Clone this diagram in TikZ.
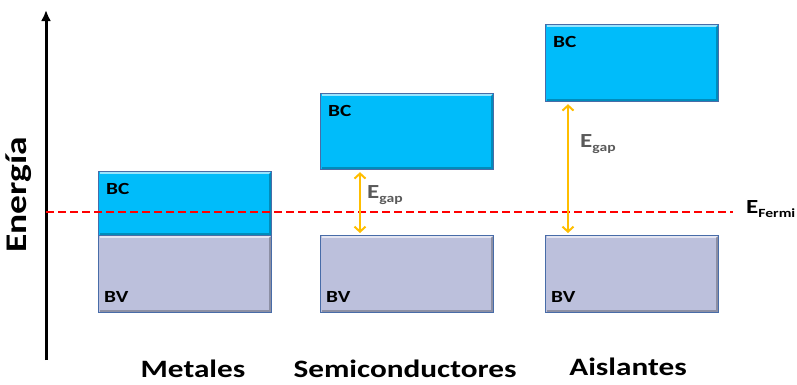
\documentclass[tikz,border=0pt]{standalone}
\usepackage{fontspec}
\setmainfont{Carlito}[FakeStretch=1.25]
\usepackage{xcolor}
\usepackage{tikz}
\usetikzlibrary{arrows.meta}
\definecolor{bandbc}{RGB}{0,188,250}
\definecolor{bandbv}{RGB}{188,192,220}
\definecolor{bandline}{RGB}{72,108,168}
\definecolor{gapcol}{RGB}{255,190,0}
\definecolor{gaptext}{RGB}{90,90,90}
\newcommand{\lowsub}[1]{\raisebox{-4pt}{\fontsize{12.5}{12.5}\selectfont #1}}

\begin{document}
\begin{tikzpicture}[x=1pt, y=-1pt,
  bc/.style={draw=bandline, fill=bandbc, line width=1.2pt, inner sep=0pt, anchor=north west, minimum width=173pt},
  bv/.style={draw=bandline, fill=bandbv, line width=1.2pt, inner sep=0pt, anchor=north west, minimum width=173pt, minimum height=77pt},
  shine/.style={white, opacity=0.6, line width=1.5pt},
  shade/.style={black, opacity=0.25, line width=1.5pt},
  tag/.style={font=\fontsize{17}{17}\selectfont\bfseries, inner sep=0pt},
  gap/.style={gapcol, line width=2pt, {Straight Barb[length=5pt,width=11pt]}-{Straight Barb[length=5pt,width=11pt]}, shorten <=2pt, shorten >=2pt},
  egap/.style={font=\fontsize{20}{20}\selectfont\bfseries, text=gaptext, inner sep=0pt, anchor=base west},
  kind/.style={font=\fontsize{25}{25}\selectfont\bfseries, inner sep=0pt, anchor=base}]
\useasboundingbox (0,0) rectangle (797,384);
% bands
\foreach \nm/\xx/\ytop/\hbc in {m/98/171/64, s/320/93/76, a/545/24/77}{
\node[bc, minimum height=\hbc pt] (\nm BC) at (\xx,\ytop) {};
\node[bv] (\nm BV) at (\xx,235) {};
\foreach \bx in {\nm BC, \nm BV}{
\draw[shine] ([shift={(2pt,-2pt)}]\bx.north west) -- ([shift={(-2pt,-2pt)}]\bx.north east);
\draw[shade] ([shift={(-2pt,-2pt)}]\bx.north east) -- ([shift={(-2pt,2pt)}]\bx.south east) -- ([shift={(2pt,2pt)}]\bx.south west);
}
\node[tag, anchor=west] (\nm BClbl) at ([xshift=8pt, yshift=-18pt]\nm BC.north west) {BC};
\node[tag, anchor=west] (\nm BVlbl) at ([xshift=6pt, yshift=16pt]\nm BV.south west) {BV};
}
% axis
\coordinate (axisB) at (46,360);
\coordinate (axisT) at (46,10);
\draw[line width=3pt, -{Latex[length=11pt,width=10pt]}] (axisB) -- (axisT);
\node[font=\fontsize{30}{30}\selectfont\bfseries, rotate=90, anchor=base, inner sep=0pt] (energia) at (27,195) {Energía};
% Fermi level
\coordinate (fermiL) at (46,212);
\node[font=\fontsize{20}{20}\selectfont\bfseries, inner sep=0pt, anchor=base west] (efermi) at (746,213) {E\lowsub{Fermi}};
\draw[red, line width=2pt, dash pattern=on 8pt off 4pt] (fermiL) -- ([xshift=-13pt]efermi.west |- fermiL);
% gaps
\draw[gap] ([xshift=40pt]sBC.south west) -- ([xshift=40pt]sBV.north west);
\draw[gap] ([xshift=23pt]aBC.south west) -- ([xshift=23pt]aBV.north west);
\node[egap] (sgap) at (367,198) {E\lowsub{gap}};
\node[egap] (agap) at (580,147) {E\lowsub{gap}};
% materials
\node[kind] (metales) at (193,377) {Metales};
\node[kind] (semis) at (405,377) {Semiconductores};
\node[kind] (aislantes) at (628,375) {Aislantes};
\end{tikzpicture}
\end{document}
